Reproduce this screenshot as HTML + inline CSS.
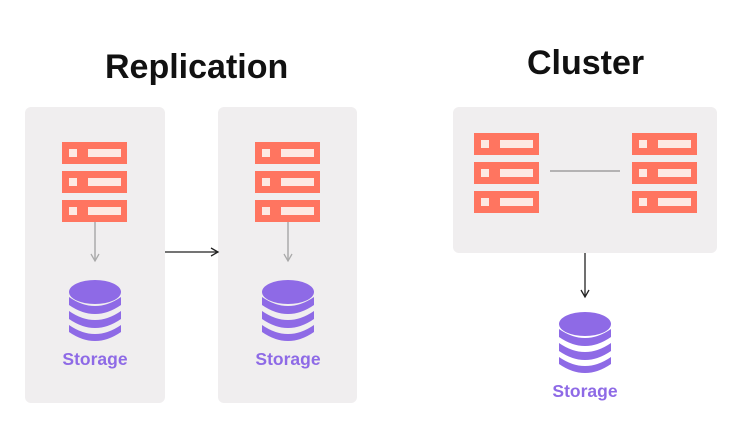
<!DOCTYPE html>
<html><head><style>
html,body{margin:0;padding:0;background:#fff;}
body{width:748px;height:438px;position:relative;overflow:hidden;font-family:"Liberation Sans",sans-serif;}
.t{position:absolute;font-weight:bold;color:#111;font-size:34px;}
</style></head><body>
<div class="t" style="left:105px;top:48px;">Replication</div>
<div class="t" style="left:527px;top:44px;">Cluster</div>
<svg width="748" height="438" style="position:absolute;left:0;top:0">
<defs>
<g id="srv">
 <rect x="0" y="0" width="65" height="22" fill="#ff7560"/>
 <rect x="7" y="7" width="8" height="8" fill="#fde9e3"/>
 <rect x="26" y="7" width="33" height="8" fill="#fde9e3"/>
</g>
<g id="stack"><use href="#srv"/><use href="#srv" y="29"/><use href="#srv" y="58"/></g>
<g id="db" fill="#8e6ae6">
 <ellipse cx="26" cy="12" rx="26" ry="12"/>
 <path d="M0 17 Q26 35 52 17 V25 Q26 43 0 25Z"/>
 <path d="M0 31 Q26 49 52 31 V39 Q26 57 0 39Z"/>
 <path d="M0 45 Q26 63 52 45 V52 Q26 70 0 52Z"/>
</g>
<marker id="a" markerWidth="10" markerHeight="10" refX="8" refY="5" orient="auto" markerUnits="userSpaceOnUse"><path d="M1 1 L8 5 L1 9" fill="none" stroke="context-stroke" stroke-width="1.3"/></marker>
</defs>
<rect x="25" y="107" width="140" height="296" rx="6" fill="#f0eeef"/>
<rect x="218" y="107" width="139" height="296" rx="6" fill="#f0eeef"/>
<rect x="453" y="107" width="264" height="146" rx="6" fill="#f0eeef"/>
<use href="#stack" x="62" y="142"/>
<use href="#stack" x="255" y="142"/>
<use href="#stack" x="474" y="133"/>
<use href="#stack" x="632" y="133"/>
<line x1="95" y1="222" x2="95" y2="261" stroke="#aaa" stroke-width="1.5" marker-end="url(#a)"/>
<line x1="288" y1="222" x2="288" y2="261" stroke="#aaa" stroke-width="1.5" marker-end="url(#a)"/>
<line x1="165" y1="252" x2="218" y2="252" stroke="#222" stroke-width="1.3" marker-end="url(#a)"/>
<line x1="550" y1="171" x2="620" y2="171" stroke="#777" stroke-width="1"/>
<line x1="585" y1="253" x2="585" y2="297" stroke="#222" stroke-width="1.3" marker-end="url(#a)"/>
<use href="#db" x="69" y="280"/>
<use href="#db" x="262" y="280"/>
<use href="#db" x="559" y="312"/>
<g font-family="Liberation Sans,sans-serif" font-weight="bold" font-size="17.5" fill="#8e6ae6" text-anchor="middle">
<text x="95" y="365">Storage</text>
<text x="288" y="365">Storage</text>
<text x="585" y="397">Storage</text>
</g>
</svg>
</body></html>
